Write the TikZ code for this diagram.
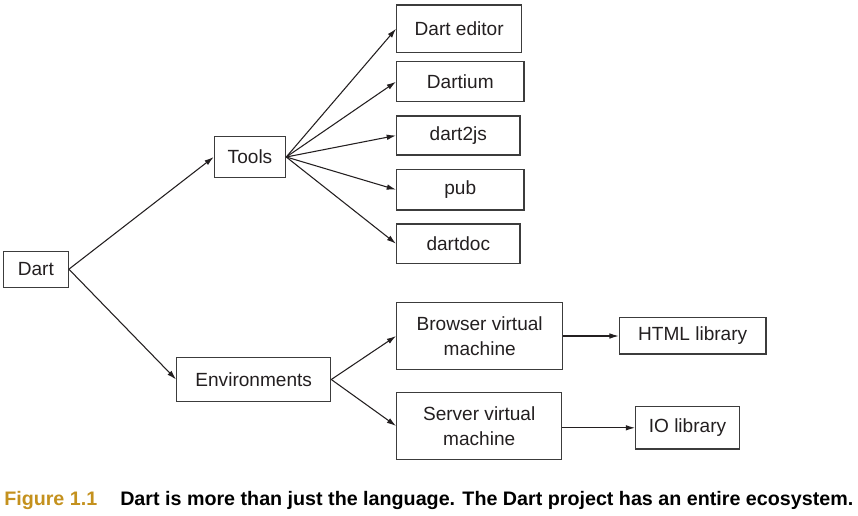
\documentclass[tikz,border=0pt]{standalone}
\usepackage{fontspec}
\usepackage{graphicx}
\setmainfont{Liberation Sans}
\usetikzlibrary{arrows.meta}
\definecolor{ink}{RGB}{35,31,32}
\definecolor{boxline}{RGB}{60,60,60}
\definecolor{gold}{RGB}{196,145,30}
\begin{document}
\begin{tikzpicture}[x=0.75pt,y=-0.75pt,
  box/.style={draw=boxline,line width=0.9pt,text=ink,inner sep=0pt,align=center,
    font=\fontsize{14.3}{18.75}\selectfont},
  conn/.style={draw=ink,line width=0.8pt,-{Latex[length=7pt,width=4.2pt]}},
  captxt/.style={inner sep=0pt,anchor=base west,font=\fontsize{14.66}{17}\selectfont\bfseries}]
\useasboundingbox (0,0) rectangle (858,515);
\node[box,minimum width=48.75pt,minimum height=27pt] (dart) at (35.8,269.2) {Dart};
\node[box,minimum width=53.5pt,minimum height=30.5pt] (tools) at (250,157) {Tools};
\node[box,minimum width=93.75pt,minimum height=35.5pt] (editor) at (459.2,28.7) {Dart editor};
\node[box,minimum width=95.5pt,minimum height=30pt] (dartium) at (460.3,81.7) {Dartium};
\node[box,minimum width=92.5pt,minimum height=29.25pt] (d2js) at (458.3,135.5) {dart2js};
\node[box,minimum width=95.5pt,minimum height=30.5pt] (pub) at (460.3,189.7) {pub};
\node[box,minimum width=92.5pt,minimum height=29.5pt] (ddoc) at (458.3,243.7) {dartdoc};
\node[box,minimum width=115.5pt,minimum height=33.3pt] (env) at (253.7,379.5) {Environments};
\node[box,minimum width=124.5pt,minimum height=50pt] (bvm) at (479.7,336) {Browser virtual\\machine};
\node[box,minimum width=123.75pt,minimum height=50pt] (svm) at (479.2,426) {Server virtual\\machine};
\node[box,minimum width=110pt,minimum height=27.5pt] (html) at (692.7,335.7) {HTML library};
\node[box,minimum width=77.7pt,minimum height=31.7pt] (io) at (687.5,427.8) {IO library};
\draw[conn] (dart.east) -- (tools.west);
\draw[conn] (dart.east) -- (env.west);
\foreach \t in {editor,dartium,d2js,pub,ddoc}
  \draw[conn] (tools.east) -- (\t.west);
\draw[conn] (env.east) -- (bvm.west);
\draw[conn] (env.east) -- (svm.west);
\draw[conn] (bvm.east) -- (bvm.east -| html.west);
\draw[conn] (svm.east |- io.west) -- (io.west);
\node[captxt,text=gold] (figlabel) at (4,505.7) {\resizebox{69.75pt}{\height}{Figure 1.1}};
\node[captxt,text=black] (captext) at (120,505.7) {\resizebox{549.75pt}{\height}{Dart is more than just the language. The Dart project has an entire ecosystem.}};
\end{tikzpicture}
\end{document}
